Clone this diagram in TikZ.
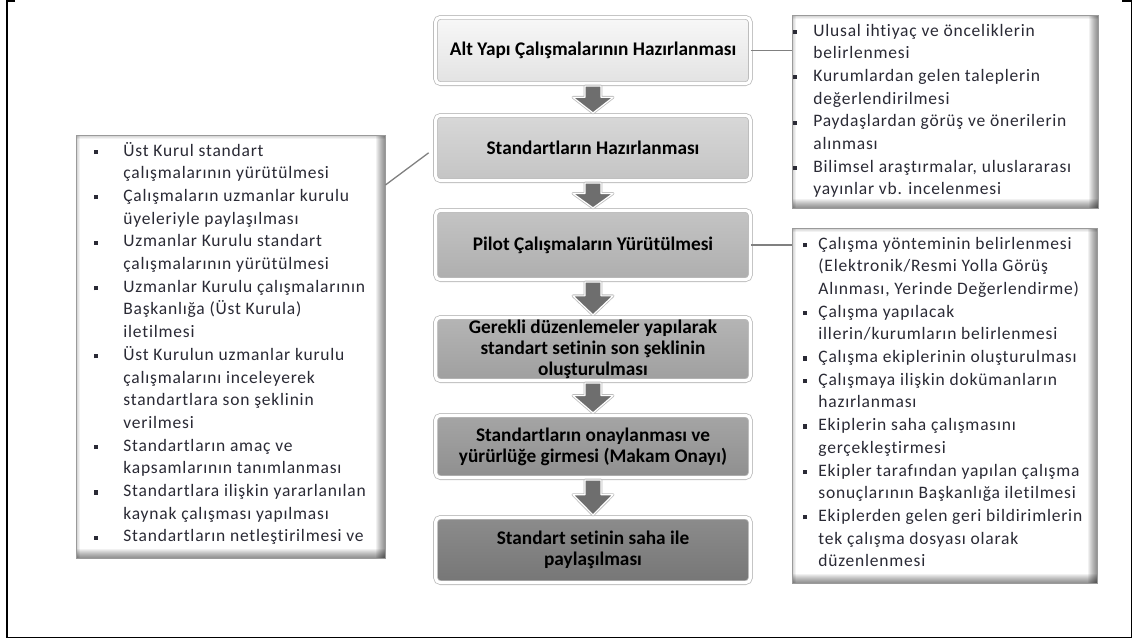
\documentclass[tikz,border=0pt]{standalone}
\usepackage{fontspec}
\setmainfont{Carlito}[Ligatures=NoCommon]
\newfontfamily\listfont{Carlito}[LetterSpace=4.5, Ligatures=NoCommon]
\usetikzlibrary{calc}

\definecolor{rimgray}{HTML}{BDBDBD}
\definecolor{arrgray}{HTML}{6E6E6E}
\definecolor{linkgray}{HTML}{808080}
\definecolor{edgegray}{HTML}{9A9A9A}
\definecolor{listink}{HTML}{2A2A35}
\definecolor{sAt}{HTML}{F8F8F8}\definecolor{sAb}{HTML}{E2E2E2}
\definecolor{sBt}{HTML}{D8D8D8}\definecolor{sBb}{HTML}{C4C4C4}
\definecolor{sCt}{HTML}{C4C4C4}\definecolor{sCb}{HTML}{AEAEAE}
\definecolor{sDt}{HTML}{B5B5B5}\definecolor{sDb}{HTML}{9F9F9F}
\definecolor{sEt}{HTML}{A5A5A5}\definecolor{sEb}{HTML}{8F8F8F}
\definecolor{sFt}{HTML}{8C8C8C}\definecolor{sFb}{HTML}{767676}

% square bullet of the side lists
\newcommand\sq{\raisebox{2pt}{\rule{4.2pt}{4.2pt}}}

% soft inner shadow along the edges of a side box
\newcommand\innershade[1]{%
  \foreach \k in {1,...,9}{%
    \fill[black, opacity=0.055] ($(#1.north east)+(-\k,0)$) rectangle (#1.south east);
    \fill[black, opacity=0.055] ($(#1.south west)+(0,-\k)$) rectangle (#1.south east);
  }%
  \foreach \k in {1,...,4}{%
    \fill[black, opacity=0.05] ($(#1.north west)+(\k,0)$) rectangle (#1.south west);
    \fill[black, opacity=0.05] ($(#1.north west)+(0,\k)$) rectangle (#1.north east);
  }%
  \draw[sideedge] (#1.north west) rectangle (#1.south east);
}

% block arrow from one stage down to the next
\newcommand\flowarrow[2]{%
  \coordinate (fa-top) at ($(#1.south)+(0,2)$);
  \coordinate (fa-tip) at ($(#2.north)+(0,-2)$);
  \coordinate (fa-mid) at ($(fa-top)!0.42!(fa-tip)$);
  \path[flowarr]
    ($(fa-top)+(-8,0)$) -- ($(fa-top)+(8,0)$) -- ($(fa-mid)+(8,0)$)
    -- ($(fa-mid)+(20,0)$) -- (fa-tip) -- ($(fa-mid)+(-20,0)$)
    -- ($(fa-mid)+(-8,0)$) -- cycle;
}

\begin{document}
\begin{tikzpicture}[x=1pt, y=-1pt,
  stage/.style={rounded corners=5pt, draw=rimgray, line width=0.8pt,
    double=white, double distance=3pt, minimum width=315pt,
    font=\fontsize{19.3}{21}\selectfont\bfseries, align=center,
    inner sep=2pt, text=black},
  sidebox/.style={fill=white, draw=none, inner sep=0pt, anchor=north west},
  sideedge/.style={draw=edgegray, line width=0.9pt},
  sidetext/.style={anchor=north west, inner sep=0pt, text=listink,
    font=\listfont\fontsize{17.5}{22.7}\selectfont},
  flowarr/.style={fill=arrgray, draw=white, line width=1.2pt, line join=round,
    preaction={draw=rimgray, line width=2.8pt, line join=round}},
  link/.style={draw=linkgray, line width=1.3pt}
]
\useasboundingbox (0,0) rectangle (1136,641);

% outer frame
\draw[line width=1.5pt] (15,0.75) -- (6.75,0.75) -- (6.75,637.25)
  -- (1131.25,637.25) -- (1131.25,0.75) -- (1122,0.75);

% main flow of stages
\node[stage, minimum height=66.4pt, top color=sAt, bottom color=sAb] (B1) at (593,50.5)
  {Alt Yapı Çalışmalarının Hazırlanması};
\node[stage, minimum height=65.4pt, top color=sBt, bottom color=sBb] (B2) at (593,148)
  {Standartların Hazırlanması};
\node[stage, minimum height=69.4pt, top color=sCt, bottom color=sCb] (B3) at (593,245)
  {Pilot Çalışmaların Yürütülmesi};
\node[stage, minimum height=63.4pt, top color=sDt, bottom color=sDb] (B4) at (593,349)
  {Gerekli düzenlemeler yapılarak\\standart setinin son şeklinin\\oluşturulması};
\node[stage, minimum height=62.4pt, top color=sEt, bottom color=sEb] (B5) at (593,446.5)
  {Standartların onaylanması ve\\yürürlüğe girmesi (Makam Onayı)};
\node[stage, minimum height=65.4pt, top color=sFt, bottom color=sFb] (B6) at (593,550)
  {Standart setinin saha ile\\paylaşılması};

\flowarrow{B1}{B2}
\flowarrow{B2}{B3}
\flowarrow{B3}{B4}
\flowarrow{B4}{B5}
\flowarrow{B5}{B6}

% side boxes with detail lists
\node[sidebox, minimum width=306pt, minimum height=193pt] (R1) at (792,15) {};
\innershade{R1}
\node[sidetext] (R1t) at ($(R1.north west)+(1,5)$) {%
\begin{tabular}{@{}l@{\hspace{16pt}}l@{}}
\sq & Ulusal ihtiyaç ve önceliklerin\\
    & belirlenmesi\\
\sq & Kurumlardan gelen taleplerin\\
    & değerlendirilmesi\\
\sq & Paydaşlardan görüş ve önerilerin\\
    & alınması\\
\sq & Bilimsel araştırmalar, uluslararası\\
    & yayınlar vb. incelenmesi
\end{tabular}};

\node[sidebox, minimum width=305pt, minimum height=355pt] (R2) at (792,228) {};
\innershade{R2}
\node[sidetext] (R2t) at ($(R2.north west)+(11,5)$) {%
\begin{tabular}{@{}l@{\hspace{11pt}}l@{}}
\sq & Çalışma yönteminin belirlenmesi\\
    & (Elektronik/Resmi Yolla Görüş\\
    & Alınması, Yerinde Değerlendirme)\\
\sq & Çalışma yapılacak\\
    & illerin/kurumların belirlenmesi\\
\sq & Çalışma ekiplerinin oluşturulması\\
\sq & Çalışmaya ilişkin dokümanların\\
    & hazırlanması\\
\sq & Ekiplerin saha çalışmasını\\
    & gerçekleştirmesi\\
\sq & Ekipler tarafından yapılan çalışma\\
    & sonuçlarının Başkanlığa iletilmesi\\
\sq & Ekiplerden gelen geri bildirimlerin\\
    & tek çalışma dosyası olarak\\
    & düzenlenmesi
\end{tabular}};

\node[sidebox, minimum width=309pt, minimum height=423pt] (L) at (76,135) {};
\innershade{L}
\node[sidetext] (Lt) at ($(L.north west)+(18,5)$) {%
\begin{tabular}{@{}l@{\hspace{25pt}}l@{}}
\sq & Üst Kurul standart\\
    & çalışmalarının yürütülmesi\\
\sq & Çalışmaların uzmanlar kurulu\\
    & üyeleriyle paylaşılması\\
\sq & Uzmanlar Kurulu standart\\
    & çalışmalarının yürütülmesi\\
\sq & Uzmanlar Kurulu çalışmalarının\\
    & Başkanlığa (Üst Kurula)\\
    & iletilmesi\\
\sq & Üst Kurulun uzmanlar kurulu\\
    & çalışmalarını inceleyerek\\
    & standartlara son şeklinin\\
    & verilmesi\\
\sq & Standartların amaç ve\\
    & kapsamlarının tanımlanması\\
\sq & Standartlara ilişkin yararlanılan\\
    & kaynak çalışması yapılması\\
\sq & Standartların netleştirilmesi ve
\end{tabular}};

% connectors from stages to their detail boxes
\draw[link] (B1.east) -- (B1.east -| R1.west);
\draw[link] (B3.east) -- (B3.east -| R2.west);
\coordinate (Lhook) at ($(L.north east)+(0,50)$);
\draw[link, shorten >=8pt] (Lhook) -- (B2.west);
\end{tikzpicture}
\end{document}
